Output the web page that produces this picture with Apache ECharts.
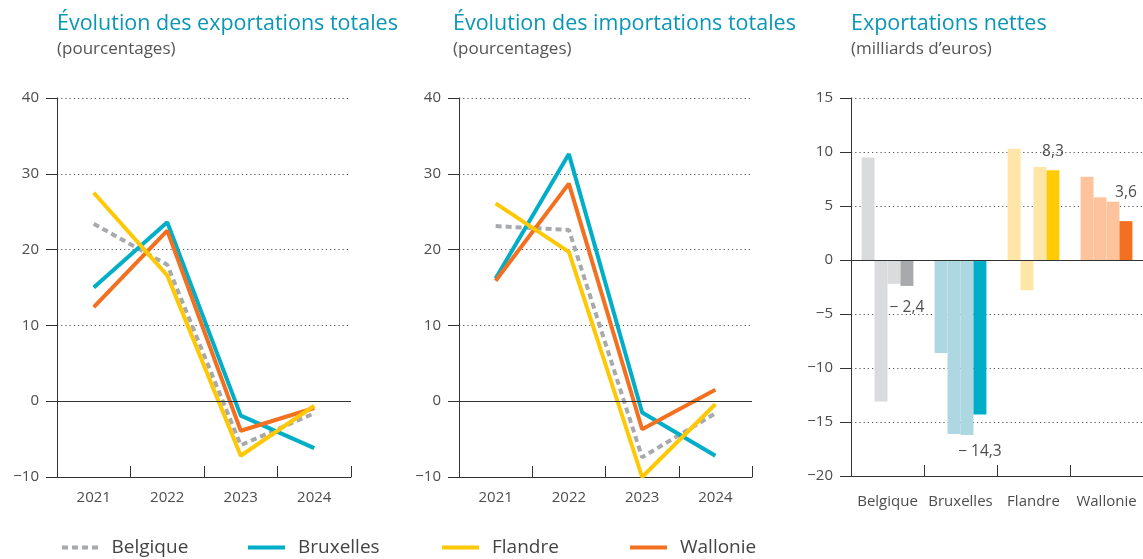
<!DOCTYPE html>
<html><head><meta charset="utf-8">
<script src="https://cdn.jsdelivr.net/npm/echarts@6/dist/echarts.min.js"></script>
<style>html,body{margin:0;padding:0;background:#fff}#c{width:1143px;height:559px}</style>
</head><body><div id="c"></div>
<script>
// ---- data ----
const years = ['2021', '2022', '2023', '2024'];
const regions = ['Belgique', 'Bruxelles', 'Flandre', 'Wallonie'];

const expBelgique  = [23.4, 18.0, -5.8, -1.6];
const expBruxelles = [15.0, 23.6, -1.9, -6.2];
const expFlandre   = [27.5, 16.6, -7.2, -0.6];
const expWallonie  = [12.4, 22.5, -3.9, -0.9];

const impBelgique  = [23.1, 22.6, -7.4, -1.6];
const impBruxelles = [16.2, 32.6, -1.5, -7.2];
const impFlandre   = [26.1, 19.7, -10.0, -0.4];
const impWallonie  = [15.9, 28.7, -3.7, 1.5];

// net exports per region (Belgique, Bruxelles, Flandre, Wallonie) for each year
const net2021 = [9.5, -8.6, 10.3, 7.7];
const net2022 = [-13.1, -16.1, -2.8, 5.8];
const net2023 = [-2.2, -16.2, 8.6, 5.4];
const net2024 = [-2.4, -14.3, 8.3, 3.6];

const lineTicks = [-10, 0, 10, 20, 30, 40];
const barTicks = [-20, -15, -10, -5, 0, 5, 10, 15];

// ---- styles ----
const C = {Belgique:'#a7a9ac', Bruxelles:'#00aec7', Flandre:'#ffc805', Wallonie:'#f37021'};
const light = ['#dadbdd', '#aed8e1', '#ffe6a6', '#fcc39c'];
const dark  = ['#a7a9ac', '#00aec7', '#ffcb05', '#f37021'];
const FONT = '"Open Sans", sans-serif';
const txt = '#4d4d4d';
const minus = v => (v < 0 ? '\u2212' + Math.abs(v) : String(v));

const chart = echarts.init(document.getElementById('c'), null, {renderer:'canvas'});

const grids = [
  {left:57, top:98, width:294, height:379},
  {left:459, top:98, width:293, height:379},
  {left:851, top:98, width:292, height:378}
];

function xAx(i, data, margin){
  return {type:'category', gridIndex:i, data:data, boundaryGap:true,
    axisLine:{show:true, onZero:false, lineStyle:{color:'#333', width:1}},
    axisTick:{show:true, inside:true, length:11, lineStyle:{color:'#333'}},
    axisLabel:{color:txt, fontSize:15, fontFamily:FONT, margin:margin, interval:0},
    splitLine:{show:false}};
}
function yAx(i, min, max, step){
  return {type:'value', gridIndex:i, min:min, max:max, interval:step,
    axisLine:{show:true, lineStyle:{color:'#333', width:1}},
    axisTick:{show:true, length:11, lineStyle:{color:'#333'}},
    axisLabel:{color:txt, fontSize:15, fontFamily:FONT, margin:18, formatter:minus},
    splitLine:{show:true, lineStyle:{color:'#555', type:[1.2,3], width:1.2}}};
}

const zeroLine = {silent:true, symbol:['none','none'], label:{show:false},
  lineStyle:{color:'#333', type:'solid', width:1}, data:[{yAxis:0}]};

function lineSeries(name, data, gi, withZero){
  const s = {name:name, type:'line', xAxisIndex:gi, yAxisIndex:gi, data:data,
    symbol:'none', showSymbol:false,
    lineStyle:{color:C[name], width:4, type: name==='Belgique' ? [6,4] : 'solid', cap:'butt'},
    itemStyle:{color:C[name]}, z: name==='Belgique'?2:3};
  if (withZero) s.markLine = zeroLine;
  return s;
}

const series = [];
[[expBelgique,expBruxelles,expWallonie,expFlandre],[impBelgique,impBruxelles,impWallonie,impFlandre]].forEach((set, gi) => {
  const names = ['Belgique','Bruxelles','Wallonie','Flandre'];
  set.forEach((d, k) => series.push(lineSeries(names[k], d, gi, k===0)));
});

const fmtNum = v => (v < 0 ? '\u2212 ' : '') + Math.abs(v).toFixed(1).replace('.', ',');
const labelOffsets = [[0, 9], [0, 24], [0, -6], [0, -16]];
[net2021, net2022, net2023, net2024].forEach((d, yi) => {
  const s = {name:years[yi], type:'bar', xAxisIndex:2, yAxisIndex:2, barGap:'0%', barCategoryGap:'29%',
    data: d.map((v, ri) => {
      const item = {value:v, itemStyle:{color: yi===3 ? dark[ri] : light[ri]}};
      if (yi===3) item.label = {show:true, position: v<0 ? 'bottom' : 'top', offset:labelOffsets[ri],
        formatter: fmtNum(v), color:txt, fontSize:15.5, fontFamily:FONT};
      return item;
    })};
  if (yi===0) s.markLine = zeroLine;
  series.push(s);
});

const titleStyle = {color:'#0a96b6', fontSize:21.5, fontWeight:'normal', fontFamily:FONT};
const subStyle = {color:'#555', fontSize:17, fontFamily:FONT};
const titles = [
  {text:'Évolution des exportations totales', subtext:'(pourcentages)', left:52},
  {text:'Évolution des importations totales', subtext:'(pourcentages)', left:448},
  {text:'Exportations nettes', subtext:'(milliards d\u2019euros)', left:846}
].map(t => Object.assign({top:8, itemGap:6, textStyle:titleStyle, subtextStyle:subStyle}, t));

const dashIcon = 'path://M0,0h6v4h-6z M10,0h6v4h-6z M20,0h6v4h-6z M30,0h6v4h-6z';
const legendLefts = [57, 243, 437, 625];
const legends = regions.map((r, i) => ({data:[{name:r, icon: r==='Belgique' ? dashIcon : 'rect'}],
  left:legendLefts[i], top:533, itemWidth:37, itemHeight:4,
  itemStyle:{color:C[r], borderWidth:0}, lineStyle:{opacity:0},
  textStyle:{color:'#444', fontSize:19, fontFamily:FONT, padding:[0,0,0,8]}}));

chart.setOption({
  animation:false,
  title: titles,
  legend: legends,
  grid: grids,
  xAxis: [xAx(0, years, 13), xAx(1, years, 13), xAx(2, regions, 18)],
  yAxis: [yAx(0, lineTicks[0], lineTicks[lineTicks.length-1], 10), yAx(1, lineTicks[0], lineTicks[lineTicks.length-1], 10),
          yAx(2, barTicks[0], barTicks[barTicks.length-1], 5)],
  series: series
});
</script></body></html>
